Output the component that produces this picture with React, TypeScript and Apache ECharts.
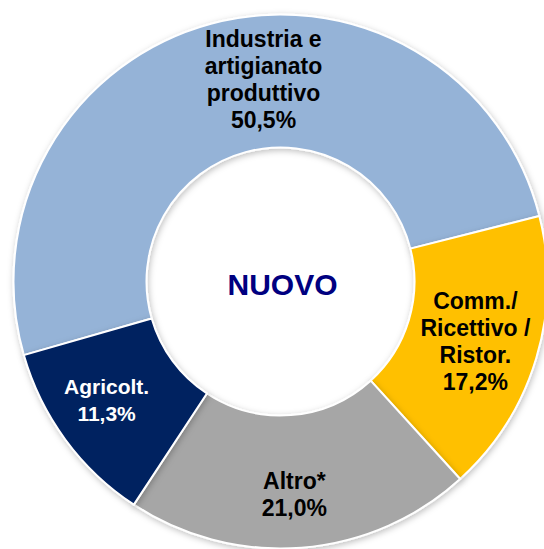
import React, { useEffect, useRef } from "react";
import * as echarts from "echarts";

const categories = [
  "Industria e\nartigianato\nproduttivo",
  "Comm./\nRicettivo /\nRistor.",
  "Altro*",
  "Agricolt.",
];
const values = [50.5, 17.2, 21.0, 11.3];
const colors = ["#95B3D7", "#FFC000", "#A6A6A6", "#002060"];
const labelColors = ["#000000", "#000000", "#000000", "#FFFFFF"];
const labelSizes = [23, 23, 23, 21];
const labelShift = [
  [36, -6],
  [0, 1],
  [-2, 10],
  [-10, -2],
];
const centerText = "NUOVO";

export default function App() {
  const ref = useRef<HTMLDivElement>(null);
  useEffect(() => {
    if (!ref.current) return;
    const chart = echarts.init(ref.current, undefined, { renderer: "svg" });
    chart.setOption({
      animation: false,
      backgroundColor: "#FFFFFF",
      graphic: [
        {
          type: "text",
          x: 282.5,
          y: 284.5,
          z: 10,
          style: {
            text: centerText,
            fill: "#000080",
            font: "bold 30px 'Liberation Sans', Arial, sans-serif",
            align: "center",
            verticalAlign: "middle",
          },
        },
      ],
      series: [
        {
          type: "pie",
          center: [280.5, 281.5],
          radius: [134, 267],
          startAngle: 196,
          clockwise: true,
          avoidLabelOverlap: false,
          itemStyle: {
            borderColor: "#FFFFFF",
            borderWidth: 2,
            shadowBlur: 6,
            shadowColor: "rgba(0,0,0,0.25)",
            shadowOffsetX: 1,
            shadowOffsetY: 2,
          },
          emphasis: { disabled: true },
          labelLine: { show: false },
          label: {
            show: true,
            position: "inside",
            fontFamily: "'Liberation Sans', Arial, sans-serif",
            fontWeight: "bold",
            lineHeight: 27,
            align: "center",
            formatter: (p: any) =>
              p.name + "\n" + Number(p.value).toFixed(1).replace(".", ",") + "%",
          },
          labelLayout: (p: any) => ({
            dx: labelShift[p.dataIndex][0],
            dy: labelShift[p.dataIndex][1],
          }),
          data: categories.map((name, i) => ({
            name,
            value: values[i],
            itemStyle: { color: colors[i] },
            label: { color: labelColors[i], fontSize: labelSizes[i] },
          })),
        },
      ],
    });
    return () => chart.dispose();
  }, []);
  return (
    <div
      ref={ref}
      style={{ position: "fixed", left: 0, top: 0, width: 544, height: 549 }}
    />
  );
}
